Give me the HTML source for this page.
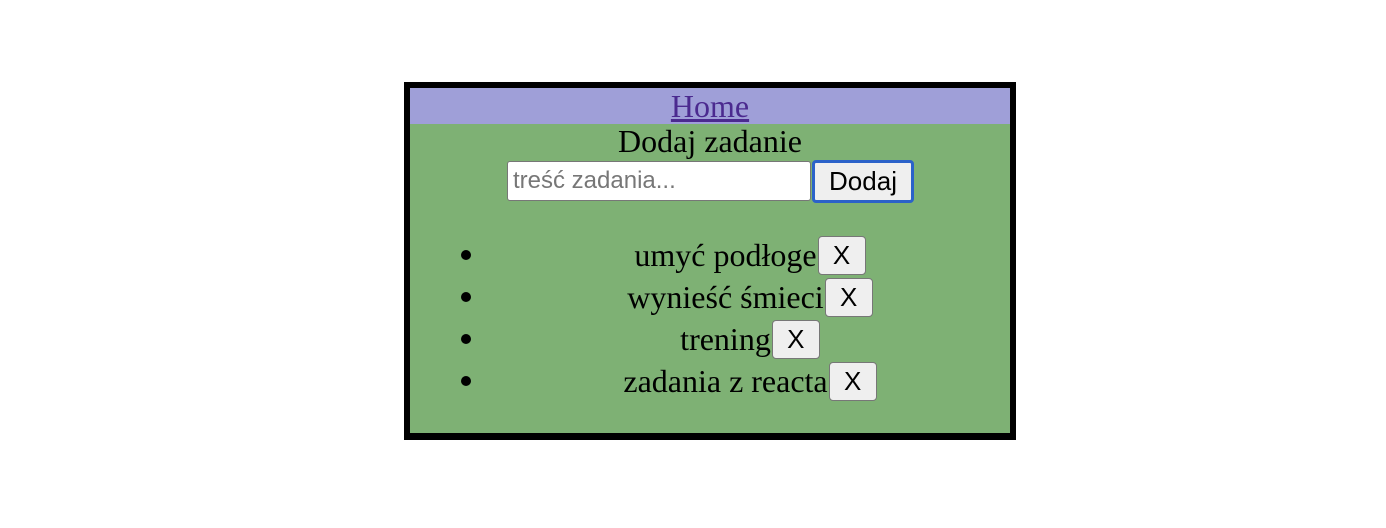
<!DOCTYPE html>
<html><head><meta charset="utf-8"><style>
body{margin:0;width:1386px;height:528px;background:#fff;position:relative;font-family:"Liberation Serif",serif;}
.box{position:absolute;left:404px;top:82px;width:600px;height:345px;border:6px solid #000;border-bottom-width:7px;background:#7eb174;}
.hdr{position:absolute;left:0;top:0;width:600px;height:36px;background:#9f9fd8;text-align:center;font-size:32px;line-height:36px;}
.hdr a{color:#4b2a8f;text-decoration:underline;}
.title{position:absolute;left:0;top:35px;width:600px;text-align:center;font-size:32px;line-height:36px;}
.inp{position:absolute;left:97px;top:73px;width:304px;height:40px;border:1px solid #777;border-radius:3px;background:#fff;box-sizing:border-box;font-family:"Liberation Sans",sans-serif;font-size:24px;color:#777;line-height:38px;padding-left:5px;}
.btn{position:absolute;box-sizing:border-box;background:#efefef;border:1.5px solid #777;border-radius:4px;font-family:"Liberation Sans",sans-serif;color:#000;text-align:center;}
.dodaj{left:402px;top:72px;width:102px;height:43px;border:3px solid #2b62c9;font-size:26px;line-height:37px;}
.row{position:absolute;left:80px;width:520px;height:40px;display:flex;justify-content:center;align-items:center;font-size:32px;}
.row .btn{position:static;width:48px;height:39px;font-size:26px;line-height:37px;margin-left:1px;}
.dot{position:absolute;left:51px;width:10px;height:10px;border-radius:50%;background:#000;}
</style></head><body>
<div class="box">
<div class="hdr"><a>Home</a></div>
<div class="title">Dodaj zadanie</div>
<div class="inp">treść zadania...</div>
<div class="btn dodaj">Dodaj</div>
<div class="dot" style="top:162px"></div>
<div class="dot" style="top:204px"></div>
<div class="dot" style="top:246px"></div>
<div class="dot" style="top:288px"></div>
<div class="row" style="top:147px"><span>umyć podłoge</span><span class="btn">X</span></div>
<div class="row" style="top:189px"><span>wynieść śmieci</span><span class="btn">X</span></div>
<div class="row" style="top:231px"><span>trening</span><span class="btn">X</span></div>
<div class="row" style="top:273px"><span>zadania z reacta</span><span class="btn">X</span></div>
</div>
</body></html>
